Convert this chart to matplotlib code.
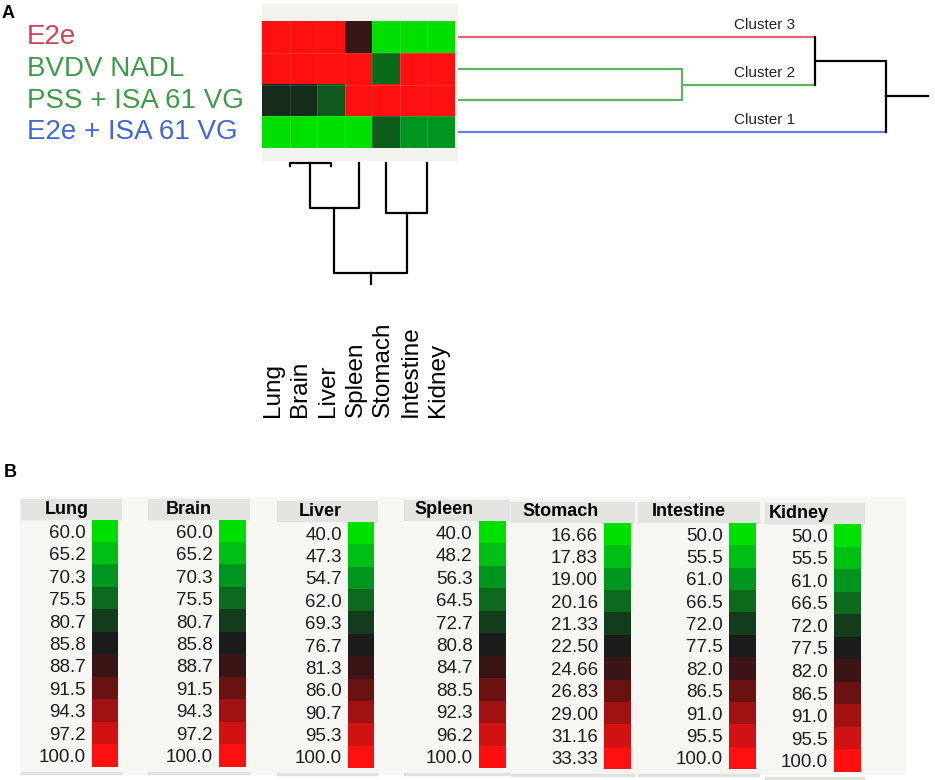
import numpy as np
import matplotlib
matplotlib.use("Agg")
import matplotlib.pyplot as plt
from matplotlib.colors import ListedColormap, LinearSegmentedColormap
from matplotlib.patches import Rectangle

plt.rcParams['font.family'] = ['Liberation Sans', 'DejaVu Sans']

# ---------------- data ----------------
organs = ['Lung', 'Brain', 'Liver', 'Spleen', 'Stomach', 'Intestine', 'Kidney']
groups = ['E2e', 'BVDV NADL', 'PSS + ISA 61 VG', 'E2e + ISA 61 VG']

# colour scale steps for every organ (panel B)
lung_levels = [60.0, 65.2, 70.3, 75.5, 80.7, 85.8, 88.7, 91.5, 94.3, 97.2, 100.0]
brain_levels = [60.0, 65.2, 70.3, 75.5, 80.7, 85.8, 88.7, 91.5, 94.3, 97.2, 100.0]
liver_levels = [40.0, 47.3, 54.7, 62.0, 69.3, 76.7, 81.3, 86.0, 90.7, 95.3, 100.0]
spleen_levels = [40.0, 48.2, 56.3, 64.5, 72.7, 80.8, 84.7, 88.5, 92.3, 96.2, 100.0]
stomach_levels = [16.66, 17.83, 19.00, 20.16, 21.33, 22.50, 24.66, 26.83, 29.00, 31.16, 33.33]
intestine_levels = [50.0, 55.5, 61.0, 66.5, 72.0, 77.5, 82.0, 86.5, 91.0, 95.5, 100.0]
kidney_levels = [50.0, 55.5, 61.0, 66.5, 72.0, 77.5, 82.0, 86.5, 91.0, 95.5, 100.0]
levels = [lung_levels, brain_levels, liver_levels, spleen_levels,
          stomach_levels, intestine_levels, kidney_levels]

# heatmap values (rows = groups, cols = organs)
e2e = [100.0, 100.0, 100.0, 84.0, 16.66, 50.0, 50.0]
bvdv = [100.0, 100.0, 100.0, 100.0, 20.16, 100.0, 100.0]
pss_isa = [83.3, 83.3, 64.5, 100.0, 33.33, 100.0, 100.0]
e2e_isa = [60.0, 60.0, 40.0, 40.0, 20.5, 61.0, 61.0]
values = np.array([e2e, bvdv, pss_isa, e2e_isa])

# row dendrogram (rows as y, distance as x)
rlink_y_left = [1, 0, 0.75]
rlink_y_right = [2, 1.5, 3]
rlink_h_left = [0.0, 0.0, 3.19]
rlink_h_right = [0.0, 2.0, 0.0]
rlink_h_merge = [2.0, 3.19, 3.82]
root_stub = 4.2
cluster_names = ['Cluster 3', 'Cluster 2', 'Cluster 1']
cluster_y = [0, 1.5, 3]

# column dendrogram (column position as x, height downward)
clink_x_left = [0.5, 1.25, 4.0, 2.125]
clink_x_right = [2.0, 3.0, 5.5, 4.75]
clink_h_left = [0.3, 0.0, 0.0, 4.5]
clink_h_right = [0.3, 0.0, 0.0, 5.0]
clink_h_merge = [0.0, 4.5, 5.0, 11.0]
col_root_stub = 12.1

# ---------------- styling ----------------
scale_colors = ['#00e000', '#00bf14', '#00951e', '#0b6a1c', '#123c1c', '#1c1c1c',
                '#3b1515', '#691212', '#a01212', '#d11212', '#ff1010']
group_colors = ['#cf4459', '#3d9c45', '#3d9c45', '#3e69d4']
line_red, line_green, line_blue = '#e2667a', '#5cb65c', '#5a86e0'

W, H = 935, 780
fig = plt.figure(figsize=(W / 100, H / 100), dpi=100)


def box(x0, y0, x1, y1):
  """ pixel box (top-left origin) -> figure fraction rect """
  return [x0 / W, 1 - y1 / H, (x1 - x0) / W, (y1 - y0) / H]


def fx(x):
  return x / W


def fy(y):
  return 1 - y / H


def bg_rect(x0, y0, x1, y1, color, z=-2):
  fig.patches.append(Rectangle((fx(x0), fy(y1)), fx(x1) - fx(x0), fy(y0) - fy(y1),
                               transform=fig.transFigure, color=color, zorder=z))


# ================= panel A =================
fig.text(fx(8), fy(14), 'A', fontsize=13, fontweight='bold', ha='center', va='center')

bg_rect(262, 4, 457, 160, '#f2f2ee')

# heatmap: map each value onto its organ's step scale
idx = np.zeros_like(values)
for j in range(len(organs)):
  idx[:, j] = np.interp(values[:, j], levels[j], np.arange(11))

cont_cmap = LinearSegmentedColormap.from_list('gbr', scale_colors)
ax_h = fig.add_axes(box(262, 21, 455, 148))
ax_h.imshow(idx, cmap=cont_cmap, vmin=0, vmax=10, aspect='auto',
            extent=(-0.5, 6.5, 3.5, -0.5), interpolation='nearest')
for k in range(1, 7):
  ax_h.axvline(k - 0.5, color='white', lw=0.6, alpha=0.15)
for k in range(1, 4):
  ax_h.axhline(k - 0.5, color='white', lw=0.6, alpha=0.15)
ax_h.set_xlim(-0.5, 6.5)
ax_h.set_ylim(3.5, -0.5)
ax_h.axis('off')

# row labels
for i, g in enumerate(groups):
  fig.text(fx(27), fy(37 + 31.75 * i), g, color=group_colors[i], fontsize=20,
           ha='left', va='center')

# column labels
for j, o in enumerate(organs):
  x_px = 262 + 27.57 * (j + 0.5) - 3
  fig.text(fx(x_px), fy(417), o, rotation=90, fontsize=17.5, ha='center', va='bottom')

# row dendrogram
ax_r = fig.add_axes(box(458, 21, 934, 148))
left_cols = [line_green, line_red, 'black']
right_cols = [line_green, line_green, line_blue]
vert_cols = [line_green, 'black', 'black']
for k in range(len(rlink_h_merge)):
  hm = rlink_h_merge[k]
  ax_r.plot([rlink_h_left[k], hm], [rlink_y_left[k]] * 2, color=left_cols[k], lw=1.6,
            solid_capstyle='butt')
  ax_r.plot([rlink_h_right[k], hm], [rlink_y_right[k]] * 2, color=right_cols[k], lw=1.6,
            solid_capstyle='butt')
  ax_r.plot([hm, hm], [rlink_y_left[k], rlink_y_right[k]], color=vert_cols[k], lw=1.6)
ymid = (rlink_y_left[-1] + rlink_y_right[-1]) / 2
ax_r.plot([rlink_h_merge[-1], root_stub], [ymid, ymid], color='black', lw=1.6)
for name, yc in zip(cluster_names, cluster_y):
  ax_r.text(2.74, yc - 0.15, name, fontsize=11, ha='center', va='bottom', color='#222222')
ax_r.set_xlim(0, 4.25)
ax_r.set_ylim(3.5, -0.5)
ax_r.axis('off')

# column dendrogram
ax_c = fig.add_axes(box(262, 160, 455, 290))
for k in range(len(clink_h_merge)):
  xl, xr, hm = clink_x_left[k], clink_x_right[k], clink_h_merge[k]
  ax_c.plot([xl, xl, xr, xr], [clink_h_left[k], hm, hm, clink_h_right[k]],
            color='black', lw=1.6)
xroot = (clink_x_left[-1] + clink_x_right[-1]) / 2
ax_c.plot([xroot, xroot], [clink_h_merge[-1], col_root_stub], color='black', lw=1.6)
ax_c.set_xlim(-0.5, 6.5)
ax_c.set_ylim(12.7, -0.3)
ax_c.axis('off')

# ================= panel B =================
fig.text(fx(10), fy(473), 'B', fontsize=13, fontweight='bold', ha='center', va='center')

bg_rect(20, 497, 905, 774, '#f6f6f3')

header_x = [(21, 90), (148, 213), (277, 343), (404, 475), (511, 600), (638, 727), (765, 830)]
bar_x = [(92, 118), (219, 246), (348, 374), (479, 506), (604, 631), (729, 756), (834, 861)]
bar_top = [520, 520, 522, 521, 523, 523, 524]
bar_bot = [767, 767, 768, 768, 769, 769, 772]

step_cmap = ListedColormap(scale_colors)
for j, o in enumerate(organs):
  hx0, hx1 = header_x[j]
  bx0, bx1 = bar_x[j]
  top, bot = bar_top[j], bar_bot[j]
  # header cells
  bg_rect(hx0, top - 21, hx1, top - 1, '#e3e3e1', z=-1)
  bg_rect(hx1 + 1, top - 21, bx1 + 3, top - 1, '#e3e3e1', z=-1)
  fig.text(fx(hx1 - 1), fy(top - 11), o, fontsize=13, fontweight='bold',
           ha='right', va='center', zorder=2)
  # bottom shadow
  bg_rect(hx0, bot + 5, bx1 + 3, bot + 7, '#e0e0de', z=-1)

  ax_l = fig.add_axes(box(bx0, top, bx1, bot))
  ax_l.imshow(np.arange(11)[:, None], cmap=step_cmap, vmin=-0.5, vmax=10.5, aspect='auto')
  fmt = '{:.2f}' if o == 'Stomach' else '{:.1f}'
  ax_l.set_yticks(range(11))
  ax_l.set_yticklabels([fmt.format(v) for v in levels[j]], fontsize=13.5, color='#1e1e1e')
  ax_l.set_xticks([])
  ax_l.tick_params(axis='y', length=0, pad=4.5)
  for s in ax_l.spines.values():
    s.set_visible(False)

fig.savefig('out.png', dpi=100)
